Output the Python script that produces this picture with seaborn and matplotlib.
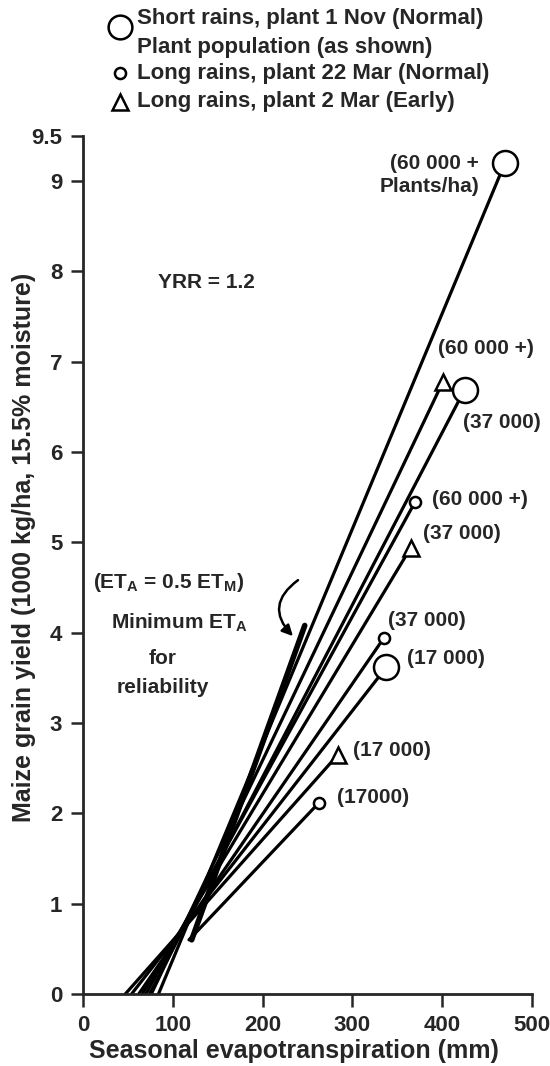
import matplotlib
matplotlib.use('Agg')
import numpy as np
import pandas as pd
import matplotlib.pyplot as plt
import seaborn as sns

# yield response lines: start point (ETa, yield) and end point per planting/population
line_series = ['short', 'short', 'short', 'normal', 'normal', 'normal', 'early', 'early', 'early']
population = ['(60 000 +\nPlants/ha)', '(37 000)', '(17 000)',
              '(60 000 +)', '(37 000)', '(17000)',
              '(60 000 +)', '(37 000)', '(17 000)']
et_start = [84, 74, 54, 70, 62, 118, 76, 66, 47]
yield_start = [0, 0, 0, 0, 0, 0.6, 0, 0, 0]
et_end = [470, 425, 338, 370, 335, 263, 401, 365, 284]
yield_end = [9.2, 6.69, 3.62, 5.45, 3.94, 2.12, 6.78, 4.94, 2.65]

# minimum ETa for reliability (ETa = 0.5 ETm)
min_et = [121, 247]
min_yield = [0.6, 4.08]

legend_labels = ['Short rains, plant 1 Nov (Normal)\nPlant population (as shown)',
                 'Long rains, plant 22 Mar (Normal)',
                 'Long rains, plant 2 Mar (Early)']

x_ticks = [0, 100, 200, 300, 400, 500]
y_ticks = [0, 1, 2, 3, 4, 5, 6, 7, 8, 9, 9.5]
y_ticklabels = ['0', '1', '2', '3', '4', '5', '6', '7', '8', '9', '9.5']

sns.set_style('ticks')
plt.rcParams['font.family'] = ['Liberation Sans', 'DejaVu Sans']
plt.rcParams['font.weight'] = 'bold'
plt.rcParams['mathtext.fontset'] = 'custom'
plt.rcParams['mathtext.rm'] = 'Liberation Sans:bold'
plt.rcParams['mathtext.default'] = 'rm'

fig = plt.figure(figsize=(5.5, 10.66), dpi=100)
ax = fig.add_axes([0.151, 0.0675, 0.816, 0.805])

markers = {'short': ('o', 18), 'normal': ('o', 8), 'early': ('^', 12)}

label_pos = [(441, 9.07), (423, 6.33), (361, 3.72),
             (389, 5.47), (340, 4.14), (283, 2.18),
             (395, 7.15), (379, 5.10), (301, 2.70)]

for i in range(len(et_end)):
    seg = pd.DataFrame({'et': [et_start[i], et_end[i]], 'yld': [yield_start[i], yield_end[i]]})
    sns.lineplot(data=seg, x='et', y='yld', color='black', lw=2.3, ax=ax,
                 solid_capstyle='round', sort=False)
    m, ms = markers[line_series[i]]
    ax.plot(et_end[i], yield_end[i], marker=m, ms=ms, mfc='white', mec='black',
            mew=1.8, ls='none', zorder=5, clip_on=False)
    ha = 'right' if i == 0 else 'left'
    ax.text(label_pos[i][0], label_pos[i][1], population[i], ha=ha, va='center',
            multialignment='right', fontsize=15, fontweight='bold', linespacing=1.3)

sns.lineplot(x=min_et, y=min_yield, color='black', lw=4.0, ax=ax, solid_capstyle='round')

ax.text(11, 4.56, r'(ET$_{A}$ = 0.5 ET$_{M}$)', fontsize=15, fontweight='bold', va='center')
ax.text(107, 4.11, r'Minimum ET$_{A}$', fontsize=15, fontweight='bold', va='center', ha='center')
ax.text(89, 3.72, 'for', fontsize=15, fontweight='bold', va='center', ha='center')
ax.text(89, 3.39, 'reliability', fontsize=15, fontweight='bold', va='center', ha='center')
ax.text(138, 7.88, 'YRR = 1.2', fontsize=15, fontweight='bold', va='center', ha='center')

ax.annotate('', xy=(236, 3.94), xytext=(242, 4.6),
            arrowprops=dict(arrowstyle='-|>', color='black', lw=1.8,
                            connectionstyle='arc3,rad=0.6', mutation_scale=16))

ax.set_xlim(0, 500)
ax.set_ylim(0, 9.5)
ax.set_xticks(x_ticks)
ax.set_yticks(y_ticks)
ax.set_yticklabels(y_ticklabels)
ax.tick_params(axis='both', labelsize=16, width=1.8, length=9, direction='out', pad=6)
for lab in ax.get_xticklabels() + ax.get_yticklabels():
    lab.set_fontweight('bold')
sns.despine(ax=ax)
for s in ['left', 'bottom']:
    ax.spines[s].set_linewidth(2)
ax.set_xlabel('Seasonal evapotranspiration (mm)', fontsize=18, fontweight='bold')
ax.set_ylabel('Maize grain yield (1000 kg/ha, 15.5% moisture)', fontsize=18,
              fontweight='bold')
ax.xaxis.set_label_coords(0.47, -0.052)
ax.yaxis.set_label_coords(-0.105, 0.52)

# legend drawn at top of figure
leg_marker_y = [1 - 27 / 1066, 1 - 73 / 1066, 1 - 102 / 1066]
leg_text_y = [1 - 33 / 1066, 1 - 73 / 1066, 1 - 102 / 1066]
for j, key in enumerate(['short', 'normal', 'early']):
    m, ms = markers[key]
    ax.plot(120 / 550, leg_marker_y[j], marker=m, ms=ms * (0.95 if j == 0 else 1.0),
            mfc='white', mec='black', mew=1.8, transform=fig.transFigure, clip_on=False)
    fig.text(137 / 550, leg_text_y[j], legend_labels[j], fontsize=16, fontweight='bold',
             va='center', ha='left', linespacing=1.45)

fig.savefig('out.png', dpi=100)
